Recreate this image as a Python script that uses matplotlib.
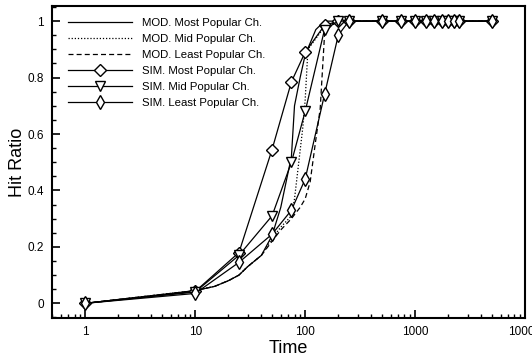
import numpy as np
import matplotlib
matplotlib.use('Agg')
import matplotlib.pyplot as plt
from matplotlib.ticker import LogLocator, MultipleLocator, FuncFormatter, NullFormatter

plt.rcParams['font.family'] = ['Liberation Sans', 'DejaVu Sans']

# simulation sample times
sim_t = [1, 10, 25, 50, 75, 100, 150, 200, 250, 500, 750, 1000, 1250, 1500,
         1750, 2000, 2250, 2500, 5000]
sim_most = [0, 0.042, 0.18, 0.545, 0.785, 0.89, 0.985, 1, 1, 1, 1, 1, 1, 1,
            1, 1, 1, 1, 1]
sim_mid = [0, 0.04, 0.17, 0.31, 0.50, 0.68, 0.97, 1, 1, 1, 1, 1, 1, 1,
           1, 1, 1, 1, 1]
sim_least = [0, 0.035, 0.145, 0.245, 0.33, 0.44, 0.74, 0.95, 1, 1, 1, 1, 1, 1,
             1, 1, 1, 1, 1]

# model curves
mod_most_t = [1, 10, 15, 20, 25, 30, 40, 50, 60, 75, 80, 90, 100, 125, 150, 200, 5000]
mod_most = [0, 0.045, 0.06, 0.08, 0.10, 0.13, 0.17, 0.24, 0.34, 0.52, 0.70, 0.80,
            0.88, 0.97, 1.0, 1.0, 1.0]
mod_mid_t = [1, 10, 15, 20, 25, 30, 40, 50, 60, 75, 80, 95, 100, 106, 150, 200, 5000]
mod_mid = [0, 0.045, 0.06, 0.08, 0.10, 0.13, 0.17, 0.23, 0.27, 0.31, 0.37, 0.62,
           0.72, 0.90, 0.98, 1.0, 1.0]
mod_least_t = [1, 10, 15, 20, 25, 30, 40, 50, 60, 75, 90, 100, 111, 125, 137, 151, 200, 5000]
mod_least = [0, 0.045, 0.06, 0.08, 0.10, 0.13, 0.17, 0.22, 0.26, 0.30, 0.34, 0.37,
             0.43, 0.58, 0.69, 0.97, 1.0, 1.0]

fig = plt.figure(figsize=(5.32, 3.63), dpi=100)
ax = fig.add_axes([0.098, 0.124, 0.889, 0.859])

lw = 0.9
ax.plot(mod_most_t, mod_most, c='black', lw=lw, ls='-', label='MOD. Most Popular Ch.')
ax.plot(mod_mid_t, mod_mid, c='black', lw=lw, ls=(0, (1, 1.5)), label='MOD. Mid Popular Ch.')
ax.plot(mod_least_t, mod_least, c='black', lw=lw, ls=(0, (4, 2.5)), label='MOD. Least Popular Ch.')
ax.plot(sim_t, sim_most, c='black', lw=lw, marker='D', ms=5.8, mfc='white', mec='black',
        mew=1.0, label='SIM. Most Popular Ch.')
ax.plot(sim_t, sim_mid, c='black', lw=lw, marker='v', ms=7.2, mfc='white', mec='black',
        mew=1.0, label='SIM. Mid Popular Ch.')
ax.plot(sim_t, sim_least, c='black', lw=lw, marker='d', ms=7.2, mfc='white', mec='black',
        mew=1.0, label='SIM. Least Popular Ch.')

ax.set_xscale('log')
ax.set_xlim(0.5, 10000)
ax.set_ylim(-0.052, 1.053)

ax.xaxis.set_major_locator(LogLocator(base=10, numticks=10))
ax.xaxis.set_minor_locator(LogLocator(base=10, subs=np.arange(2, 10), numticks=10))
ax.xaxis.set_major_formatter(FuncFormatter(lambda v, p: '%d' % v))
ax.xaxis.set_minor_formatter(NullFormatter())
ax.yaxis.set_major_locator(MultipleLocator(0.2))
ax.yaxis.set_minor_locator(MultipleLocator(0.05))
ax.yaxis.set_major_formatter(FuncFormatter(lambda v, p: '0' if abs(v) < 1e-9 else ('1' if abs(v-1) < 1e-9 else '%g' % v)))

ax.tick_params(which='major', direction='in', length=5.5, width=1.2, labelsize=8.5,
               top=False, right=False, pad=6)
ax.tick_params(which='minor', direction='in', length=3.2, width=1.0, top=False, right=False)
for s in ax.spines.values():
    s.set_linewidth(1.5)

ax.set_xlabel('Time', fontsize=13, labelpad=1)
ax.set_ylabel('Hit Ratio', fontsize=13, labelpad=1)

ax.legend(loc='upper left', bbox_to_anchor=(0.008, 1.0), frameon=False, fontsize=8.2,
          handlelength=5.6, numpoints=1, labelspacing=0.52, handletextpad=0.9,
          borderaxespad=0.65)

plt.savefig('out.png', dpi=100)
